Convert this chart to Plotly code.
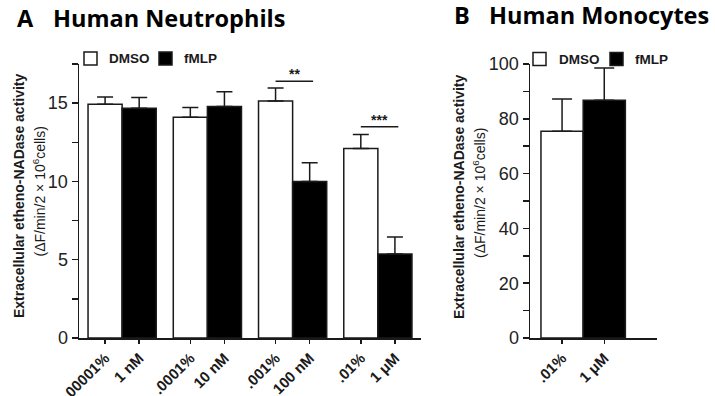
import plotly.graph_objects as go

W, H = 715, 396

# ---------------- data ----------------
a_dmso_labels = [".00001%", ".0001%", ".001%", ".01%"]
a_fmlp_labels = ["1 nM", "10 nM", "100 nM", "1 μM"]
a_dmso_mean = [14.93, 14.10, 15.14, 12.10]
a_dmso_sem = [0.47, 0.62, 0.83, 0.90]
a_fmlp_mean = [14.68, 14.78, 9.99, 5.37]
a_fmlp_sem = [0.68, 0.94, 1.21, 1.08]

b_dmso_labels = [".01%"]
b_fmlp_labels = ["1 μM"]
b_dmso_mean = [75.5]
b_dmso_sem = [11.7]
b_fmlp_mean = [86.8]
b_fmlp_sem = [11.7]

sig_groups = [2, 3]
sig_text = ["**", "***"]
sig_level = [16.4, 13.5]

series_names = ["DMSO", "fMLP"]
y_title_1 = "Extracellular etheno-NADase activity"
y_title_2 = "(ΔF/min/2 × 10<sup>6</sup>cells)"

# ---------------- helpers ----------------
PITCH = 2.5
def px(x):
    return x / W
def py(y):
    return 1 - y / H

ARIAL = "Arial, 'Liberation Sans', sans-serif"
INK = "#1a1a1a"

a_dmso_x = [g * PITCH for g in range(len(a_dmso_mean))]
a_fmlp_x = [g * PITCH + 1 for g in range(len(a_fmlp_mean))]
b_dmso_x = [g * PITCH for g in range(len(b_dmso_mean))]
b_fmlp_x = [g * PITCH + 1 for g in range(len(b_fmlp_mean))]

fig = go.Figure()

def add_bars(xs, ys, errs, fill, xa, ya, capw):
    fig.add_trace(go.Bar(
        x=xs, y=ys, width=1.0, xaxis=xa, yaxis=ya,
        marker=dict(color=fill, line=dict(color=INK, width=1.5)),
        error_y=dict(type="data", array=errs, arrayminus=[0] * len(errs),
                     symmetric=False, color=INK, thickness=1.5, width=capw),
        showlegend=False, hoverinfo="skip",
    ))

add_bars(a_dmso_x, a_dmso_mean, a_dmso_sem, "white", "x", "y", 8)
add_bars(a_fmlp_x, a_fmlp_mean, a_fmlp_sem, "black", "x", "y", 8)
add_bars(b_dmso_x, b_dmso_mean, b_dmso_sem, "white", "x2", "y2", 10)
add_bars(b_fmlp_x, b_fmlp_mean, b_fmlp_sem, "black", "x2", "y2", 10)

# significance bars
annotations = []
for g, t, lvl in zip(sig_groups, sig_text, sig_level):
    x0 = g * PITCH
    x1 = g * PITCH + 1.1
    fig.add_trace(go.Scatter(x=[x0, x1], y=[lvl, lvl], mode="lines",
                             line=dict(color=INK, width=1.5), xaxis="x", yaxis="y",
                             showlegend=False, hoverinfo="skip"))
    annotations.append(dict(x=(x0 + x1) / 2, y=lvl, xref="x", yref="y", text=t,
                            showarrow=False, yanchor="bottom", yshift=-3,
                            font=dict(family=ARIAL, size=14, color=INK, weight="bold")))

def tick_pairs(dx, dl, fx, fl):
    pairs = sorted(list(zip(dx, dl)) + list(zip(fx, fl)))
    return [p[0] for p in pairs], [p[1] for p in pairs]

a_tv, a_tt = tick_pairs(a_dmso_x, a_dmso_labels, a_fmlp_x, a_fmlp_labels)
b_tv, b_tt = tick_pairs(b_dmso_x, b_dmso_labels, b_fmlp_x, b_fmlp_labels)

xcommon = dict(showline=True, linecolor=INK, linewidth=1.5, showgrid=False, zeroline=False,
               ticks="outside", ticklen=4, tickwidth=1.5, tickcolor=INK, tickangle=-45,
               tickfont=dict(family=ARIAL, size=15, color=INK, weight="bold"),
               fixedrange=True, automargin=False)
ycommon = dict(showline=True, linecolor=INK, linewidth=1.5, showgrid=False, zeroline=False,
               ticks="outside", ticklen=6, tickwidth=1.5, tickcolor=INK,
               tickfont=dict(family=ARIAL, size=18, color="#222"), fixedrange=True,
               automargin=False)

y_bot = py(338)
y_top = py(64)

fig.update_layout(
    template="none",
    width=W, height=H, margin=dict(l=0, r=0, t=0, b=0, pad=0, autoexpand=False),
    paper_bgcolor="white", plot_bgcolor="white", barmode="overlay",
    font=dict(family=ARIAL, color=INK),
    xaxis=dict(domain=[px(79), px(421)], range=[-0.765, 9.265],
               tickvals=a_tv, ticktext=a_tt, anchor="y", **xcommon),
    yaxis=dict(domain=[y_bot, y_top], range=[0, 17.5], tick0=0, dtick=5, anchor="x",
               minor=dict(dtick=2.5, ticks="outside", ticklen=6, tickwidth=1.5, tickcolor=INK),
               **ycommon),
    xaxis2=dict(domain=[px(530), px(657)], range=[-0.76, 2.25],
                tickvals=b_tv, ticktext=b_tt, anchor="y2", **xcommon),
    yaxis2=dict(domain=[y_bot, y_top], range=[0, 100], tick0=0, dtick=20, anchor="x2",
                minor=dict(dtick=10, ticks="outside", ticklen=6, tickwidth=1.5, tickcolor=INK),
                **ycommon),
)

# titles
TITLE_FONT = dict(family="'Open Sans', Lato, sans-serif", size=23.5, color="black", weight="bold")
for txt, x, y in [("A", 15, 18), ("Human Neutrophils", 51, 18),
                  ("B", 452, 15), ("Human Monocytes", 487, 15)]:
    annotations.append(dict(x=px(x), y=py(y), xref="paper", yref="paper", text=txt,
                            showarrow=False, xanchor="left", yanchor="middle", font=TITLE_FONT))

# y-axis titles
for x1, y1, x2, y2 in [(19, 196, 39.5, 192), (459, 197, 479, 193)]:
    annotations.append(dict(x=px(x1), y=py(y1), xref="paper", yref="paper", text="<b>" + y_title_1 + "</b>",
                            showarrow=False, textangle=-90, xanchor="center", yanchor="middle",
                            font=dict(family=ARIAL, size=14, color=INK)))
    annotations.append(dict(x=px(x2), y=py(y2), xref="paper", yref="paper", text=y_title_2,
                            showarrow=False, textangle=-90, xanchor="center", yanchor="middle",
                            font=dict(family=ARIAL, size=14, color=INK)))

# legends (drawn as decoration)
shapes = []
for (sq1, t1, sq2, t2, yc) in [(84, 107, 159, 182, 58.5), (533, 557, 610, 633, 59)]:
    for sx, fill in [(sq1, "white"), (sq2, "black")]:
        shapes.append(dict(type="rect", xref="paper", yref="paper",
                           x0=px(sx), x1=px(sx + 13), y0=py(yc + 6.5), y1=py(yc - 6.5),
                           line=dict(color=INK, width=1.5), fillcolor=fill))
    for tx, name in [(t1, series_names[0]), (t2, series_names[1])]:
        annotations.append(dict(x=px(tx), y=py(yc), xref="paper", yref="paper", text=name,
                                showarrow=False, xanchor="left", yanchor="middle",
                                font=dict(family=ARIAL, size=13.5, color=INK, weight="bold")))

fig.update_layout(annotations=annotations, shapes=shapes)

fig.write_html("out.html", config={"displayModeBar": False, "staticPlot": True},
               post_script="document.body.style.margin='0';document.body.style.overflow='hidden';")
